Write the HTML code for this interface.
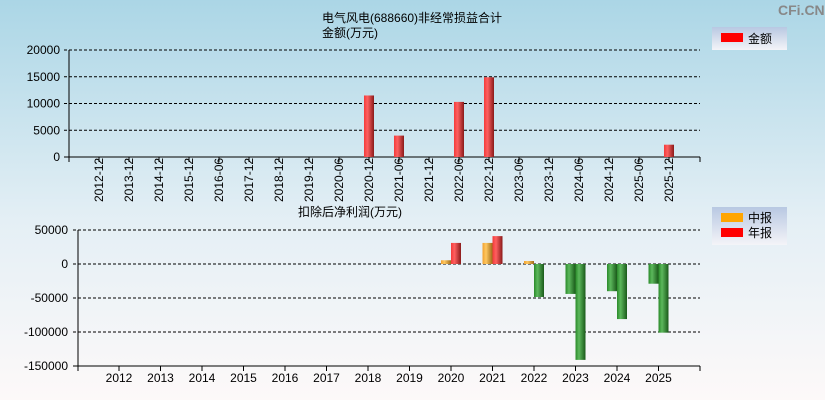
<!DOCTYPE html>
<html><head><meta charset="utf-8"><style>
html,body{margin:0;padding:0;}
body{width:825px;height:400px;overflow:hidden;font-family:"Liberation Sans","Noto Sans CJK SC",sans-serif;}
svg{display:block}
text{font-family:"Liberation Sans","Noto Sans CJK SC",sans-serif;font-size:12px;fill:#000}
</style></head><body>
<svg id="c" width="825" height="400">
<defs>
<linearGradient id="bg" x1="0" y1="0" x2="0" y2="1"><stop offset="0" stop-color="#abd6e6"/><stop offset="0.55" stop-color="#e4eff5"/><stop offset="1" stop-color="#fdf9f9"/></linearGradient>
<linearGradient id="red" x1="0" x2="1"><stop offset="0" stop-color="#f23a3a"/><stop offset="0.35" stop-color="#ff6060"/><stop offset="1" stop-color="#8a1a1a"/></linearGradient>
<linearGradient id="org" x1="0" x2="1"><stop offset="0" stop-color="#f0a030"/><stop offset="0.35" stop-color="#ffc860"/><stop offset="1" stop-color="#a06a1a"/></linearGradient>
<linearGradient id="grn" x1="0" x2="1"><stop offset="0" stop-color="#2a8a2a"/><stop offset="0.35" stop-color="#5cb85c"/><stop offset="1" stop-color="#1a5a1a"/></linearGradient>
<linearGradient id="lg" x1="0" y1="0" x2="0" y2="1"><stop offset="0" stop-color="#b8c8e2"/><stop offset="1" stop-color="#f4f4f8"/></linearGradient>
</defs>
<rect width="825" height="400" fill="url(#bg)"/>
<text x="778" y="15" style="font-size:14px;font-weight:bold;fill:#888">CFi.CN</text>
<text x="322" y="22">电气风电(688660)非经常损益合计</text>
<text x="322" y="37">金额(万元)</text>
<g>
<rect x="712" y="27" width="75" height="23" fill="url(#lg)"/>
<rect x="721" y="33" width="22" height="9" fill="#ff0000"/>
<text x="748" y="43">金额</text>
</g>
<text x="298" y="216">扣除后净利润(万元)</text>
<g>
<rect x="712" y="207" width="75" height="38" fill="url(#lg)"/>
<rect x="721" y="213" width="22" height="9" fill="#ffa500"/>
<text x="748" y="222">中报</text>
<rect x="721" y="228" width="22" height="9" fill="#ff0000"/>
<text x="748" y="237">年报</text>
</g>
<g id="top"></g><g id="bot"></g>
</svg>
<script>
const topCats=["2012-12","2013-12","2014-12","2015-12","2016-06","2017-12","2018-12","2019-12","2020-06","2020-12","2021-06","2021-12","2022-06","2022-12","2023-06","2023-12","2024-06","2024-12","2025-06","2025-12"];
const topVals=[0,0,0,0,0,0,0,0,0,11500,4000,0,10300,14900,0,0,0,0,0,2300];
const topTicks=[0,5000,10000,15000,20000];
const botCats=["2012","2013","2014","2015","2016","2017","2018","2019","2020","2021","2022","2023","2024","2025"];
const interimVals=[0,0,0,0,0,0,0,0,5500,31000,4400,-44000,-40000,-29000];
const annualVals=[0,0,0,0,0,0,0,0,31000,41000,-48500,-141000,-81000,-101000];
const botTicks=[-150000,-100000,-50000,0,50000];
const NS="http://www.w3.org/2000/svg";
function mk(p,t,a){const e=document.createElementNS(NS,t);for(const k in a)e.setAttribute(k,a[k]);p.appendChild(e);return e;}
const T=document.getElementById('top');
const ty=v=>157-v/20000*107;
const tx=i=>99+i*30;
topTicks.forEach(v=>{
 const l=mk(T,'line',{x1:64,x2:700,y1:ty(v),y2:ty(v),stroke:'#000','stroke-dasharray':v===0?'':'3,2'});
 
 
 const t=mk(T,'text',{x:60,y:ty(v)+4,'text-anchor':'end'});t.textContent=v;
 
 
});
mk(T,'line',{x1:69,x2:69,y1:50,y2:162,stroke:'#000'});
mk(T,'line',{x1:700,x2:700,y1:157,y2:162,stroke:'#000'});
topCats.forEach((c,i)=>{
 mk(T,'line',{x1:tx(i),x2:tx(i),y1:157,y2:162,stroke:'#000'});
 const t=mk(T,'text',{x:0,y:0,transform:`translate(${tx(i)+4},202) rotate(-90)`});t.textContent=c;
 
 
 if(topVals[i]!==0){
  const y=ty(topVals[i]);
  const r=mk(T,'rect',{x:tx(i)-5,y:y,width:10,height:157-y,fill:'url(#red)'});
  
  
 }
});
const B=document.getElementById('bot');
const by=v=>264-v/50000*34;
const bx=i=>119+i*41.5;
botTicks.forEach(v=>{
 const l=mk(B,'line',{x1:73,x2:700,y1:by(v),y2:by(v),stroke:'#000','stroke-dasharray':v===-150000?'':'3,2'});
 
 
 const t=mk(B,'text',{x:68,y:by(v)+4,'text-anchor':'end'});t.textContent=v;
 
 
});
mk(B,'line',{x1:78,x2:78,y1:230,y2:371,stroke:'#000'});
mk(B,'line',{x1:700,x2:700,y1:366,y2:371,stroke:'#000'});
function bar(x,v,fillPos,name){
 if(v===0)return;
 const y0=by(0),y1=by(v);
 const r=mk(B,'rect',{x:x,y:Math.min(y0,y1),width:10,height:Math.abs(y1-y0),fill:v>0?fillPos:'url(#grn)'});
 
 
}
botCats.forEach((c,i)=>{
 mk(B,'line',{x1:bx(i),x2:bx(i),y1:366,y2:371,stroke:'#000'});
 const t=mk(B,'text',{x:bx(i),y:382,'text-anchor':'middle'});t.textContent=c;
 
 
 bar(bx(i)-10,interimVals[i],'url(#org)','interim-bar-'+c);
 bar(bx(i),annualVals[i],'url(#red)','annual-bar-'+c);
});
</script>
</body></html>
